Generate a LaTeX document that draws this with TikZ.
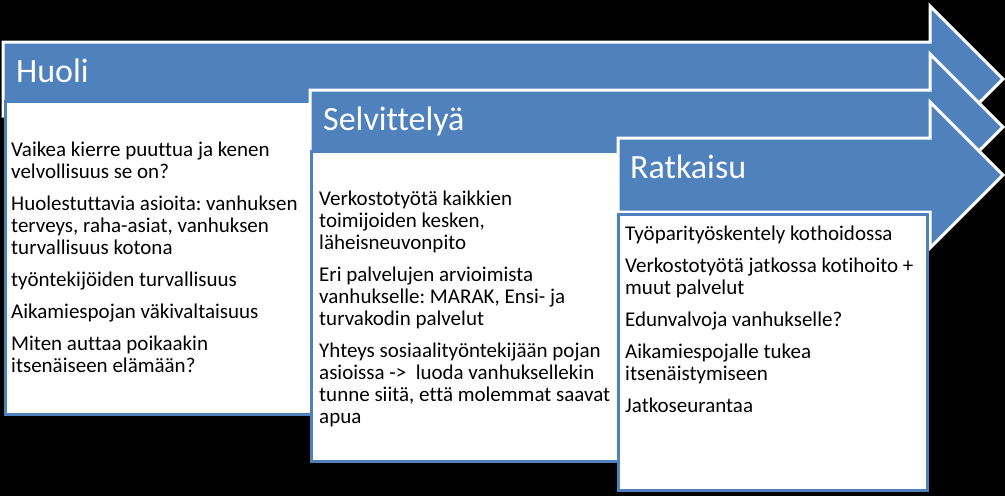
\documentclass[tikz,border=0pt]{standalone}
\usepackage{fontspec}
\setmainfont{Carlito}[Ligatures=NoCommon]
\definecolor{blu}{HTML}{4F81BD}
\frenchspacing
\begin{document}
\begin{tikzpicture}[x=1pt,y=-1pt,
  arrowshape/.style={fill=blu, draw=white, line width=3pt, line join=miter},
  textbox/.style={fill=white, draw=blu, line width=3pt},
  ttl/.style={anchor=base west, inner sep=0pt, text=white, font=\fontsize{34}{40}\selectfont},
  txt/.style={anchor=base west, inner sep=0pt, text=black, font=\fontsize{21}{24}\selectfont}]
\fill[black] (0,0) rectangle (1005,496);
\useasboundingbox (0,0) rectangle (1005,496);
% stage 1
\draw[arrowshape] (3,42) -- (930,42) -- (930,6) -- (1003,79) -- (930,152) -- (930,116) -- (3,116) -- cycle;
\draw[textbox] (5,101) rectangle (330,414);
\node[ttl] (t1) at (16,82) {Huoli};
\node[txt] (a1) at (11,156) {Vaikea kierre puuttua ja kenen};
\node[txt] (a2) at (11,178) {velvollisuus se on?};
\node[txt] (a3) at (11,210) {Huolestuttavia asioita: vanhuksen};
\node[txt] (a4) at (11,232) {terveys, raha-asiat, vanhuksen};
\node[txt] (a5) at (11,254) {turvallisuus kotona};
\node[txt] (a6) at (11,286) {työntekijöiden turvallisuus};
\node[txt] (a7) at (11,318) {Aikamiespojan väkivaltaisuus};
\node[txt] (a8) at (11,350) {Miten auttaa poikaakin};
\node[txt] (a9) at (11,372) {itsenäiseen elämään?};
% stage 2
\draw[arrowshape] (310,90) -- (930,90) -- (930,54) -- (1003,127) -- (930,200) -- (930,164) -- (310,164) -- cycle;
\draw[textbox] (311,151) rectangle (640,461);
\node[ttl] (t2) at (323,130) {Selvittelyä};
\node[txt] (b1) at (319,205) {Verkostotyötä kaikkien};
\node[txt] (b2) at (319,227) {toimijoiden kesken,};
\node[txt] (b3) at (319,249) {läheisneuvonpito};
\node[txt] (b4) at (319,281) {Eri palvelujen arvioimista};
\node[txt] (b5) at (319,303) {vanhukselle: MARAK, Ensi- ja};
\node[txt] (b6) at (319,325) {turvakodin palvelut};
\node[txt] (b7) at (319,357) {Yhteys sosiaalityöntekijään pojan};
\node[txt] (b8) at (319,379) {asioissa -> \ luoda vanhuksellekin};
\node[txt] (b9) at (319,401) {tunne siitä, että molemmat saavat};
\node[txt] (b10) at (319,423) {apua};
% stage 3
\draw[arrowshape] (618,138) -- (930,138) -- (930,102) -- (1003,175) -- (930,248) -- (930,212) -- (618,212) -- cycle;
\draw[textbox] (618,214) rectangle (927,490);
\node[ttl] (t3) at (630,178) {Ratkaisu};
\node[txt] (c1) at (625,240) {Työparityöskentely kothoidossa};
\node[txt] (c2) at (625,272) {Verkostotyötä jatkossa kotihoito +};
\node[txt] (c3) at (625,294) {muut palvelut};
\node[txt] (c4) at (625,326) {Edunvalvoja vanhukselle?};
\node[txt] (c5) at (625,358) {Aikamiespojalle tukea};
\node[txt] (c6) at (625,380) {itsenäistymiseen};
\node[txt] (c7) at (625,412) {Jatkoseurantaa};
\end{tikzpicture}
\end{document}
